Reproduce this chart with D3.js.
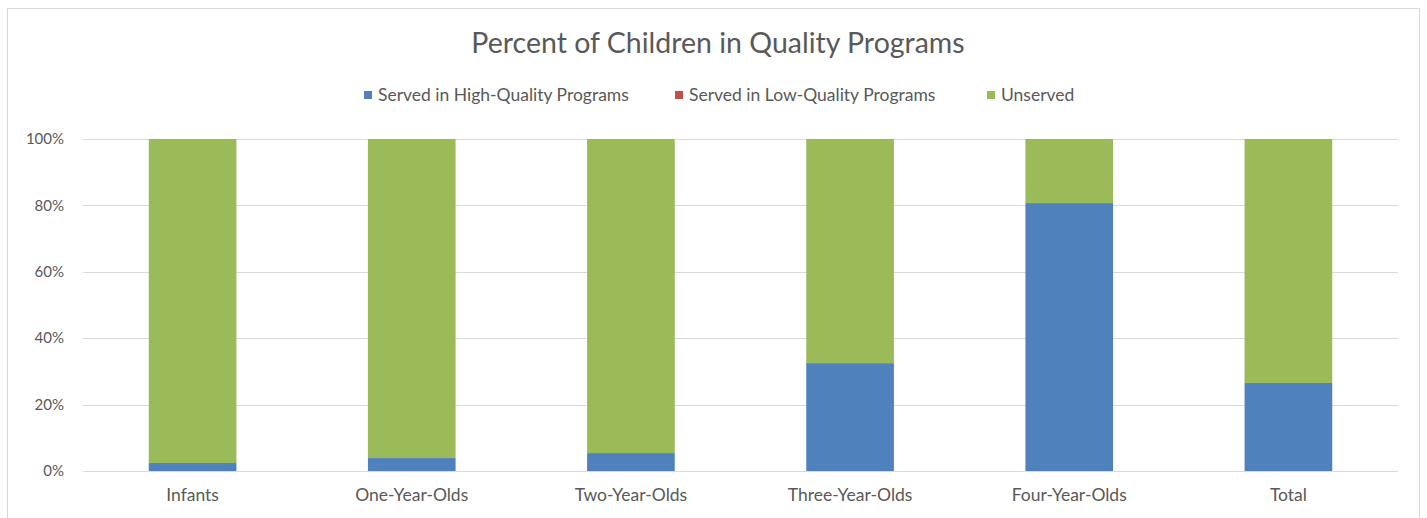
<!DOCTYPE html>
<html>
<head>
<meta charset="utf-8">
<script src="https://cdn.jsdelivr.net/npm/d3@7"></script>
<style>
  body { margin: 0; background: #fff; }
  text { font-family: Lato, "Open Sans", sans-serif; fill: #595959; }
</style>
</head>
<body>
<div id="chart"></div>
<script>
const categories = ["Infants", "One-Year-Olds", "Two-Year-Olds", "Three-Year-Olds", "Four-Year-Olds", "Total"];
const highQuality = [0.024, 0.039, 0.054, 0.325, 0.807, 0.265];
const lowQuality = [0, 0, 0, 0, 0, 0];
const seriesNames = ["Served in High-Quality Programs", "Served in Low-Quality Programs", "Unserved"];
const seriesColors = ["#4f81bd", "#c0504d", "#9bbb59"];
const yTicks = [0, 0.2, 0.4, 0.6, 0.8, 1];

const width = 1427, height = 518;
const margin = { left: 83, right: 29, top: 139, bottom: 47 };

const svg = d3.select("#chart").append("svg")
    .attr("width", width)
    .attr("height", height);

// chart frame
svg.append("rect")
    .attr("x", 7.5).attr("y", 8.5)
    .attr("width", 1412).attr("height", 520)
    .attr("fill", "none")
    .attr("stroke", "#d9d9d9");

const rows = categories.map((c, i) => ({
    cat: c,
    high: highQuality[i],
    low: lowQuality[i],
    unserved: 1 - highQuality[i] - lowQuality[i]
}));

const series = d3.stack().keys(["high", "low", "unserved"])(rows);

const x = d3.scaleBand()
    .domain(categories)
    .range([margin.left, width - margin.right])
    .paddingInner(0.6)
    .paddingOuter(0.3);

const y = d3.scaleLinear()
    .domain([0, 1])
    .range([height - margin.bottom, margin.top]);

// gridlines
svg.append("g")
    .selectAll("line")
    .data(yTicks)
    .enter().append("line")
    .attr("x1", margin.left)
    .attr("x2", width - margin.right)
    .attr("y1", d => Math.round(y(d)) + 0.5)
    .attr("y2", d => Math.round(y(d)) + 0.5)
    .attr("stroke", "#d9d9d9")
    .attr("stroke-width", 1);

// y labels
svg.append("g")
    .selectAll("text")
    .data(yTicks)
    .enter().append("text")
    .attr("x", 64)
    .attr("y", d => y(d))
    .attr("dy", "0.35em")
    .attr("text-anchor", "end")
    .style("font-size", "15px")
    .text(d3.format(".0%"));

// bars
svg.append("g")
    .selectAll("g")
    .data(series)
    .enter().append("g")
    .attr("fill", (d, i) => seriesColors[i])
    .selectAll("rect")
    .data(d => d)
    .enter().append("rect")
    .attr("x", d => x(d.data.cat))
    .attr("width", x.bandwidth())
    .attr("y", d => y(d[1]))
    .attr("height", d => y(d[0]) - y(d[1]));

// x labels
svg.append("g")
    .selectAll("text")
    .data(categories)
    .enter().append("text")
    .attr("x", d => x(d) + x.bandwidth() / 2)
    .attr("y", 501)
    .attr("text-anchor", "middle")
    .style("font-size", "17.5px")
    .text(d => d);

// title
svg.append("text")
    .attr("x", 718)
    .attr("y", 53)
    .attr("text-anchor", "middle")
    .style("font-size", "28.5px")
    .text("Percent of Children in Quality Programs");

// legend
const legendX = [364, 675, 987];
const legend = svg.append("g")
    .selectAll("g")
    .data(seriesNames)
    .enter().append("g")
    .attr("transform", (d, i) => `translate(${legendX[i]},95)`);

legend.append("rect")
    .attr("x", 0).attr("y", -4)
    .attr("width", 8).attr("height", 8)
    .attr("fill", (d, i) => seriesColors[i]);

legend.append("text")
    .attr("x", 14)
    .attr("dy", "0.35em")
    .style("font-size", "17.5px")
    .text(d => d);
</script>
</body>
</html>
